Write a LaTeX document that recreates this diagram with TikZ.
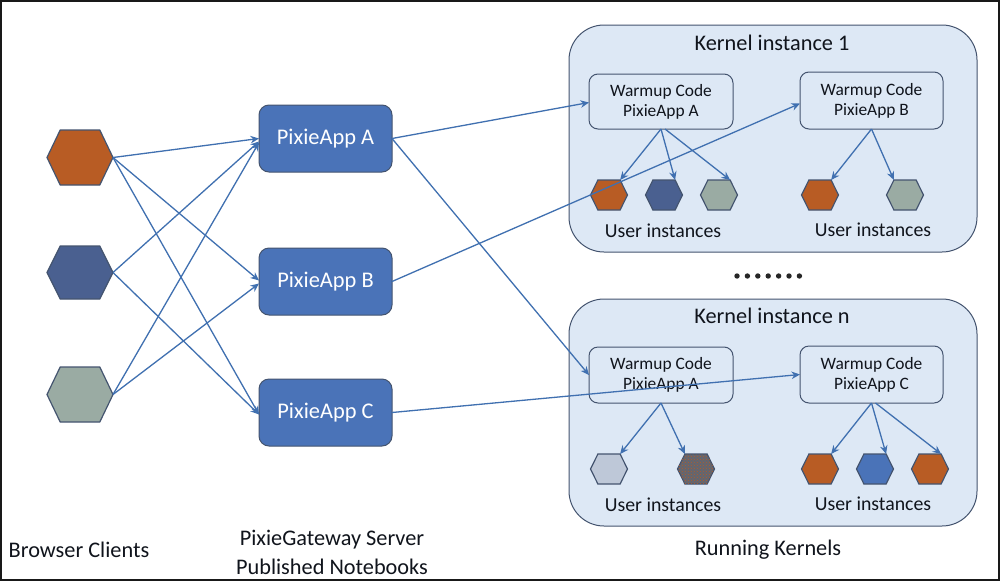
\documentclass[tikz,border=0pt]{standalone}
\usepackage{fontspec}
\setmainfont{Carlito}
\usetikzlibrary{arrows.meta,patterns}
\definecolor{hexorange}{HTML}{B85C24}
\definecolor{hexdark}{HTML}{4A6090}
\definecolor{hexgray}{HTML}{9AABA3}
\definecolor{hexpale}{HTML}{BEC8D8}
\definecolor{hexmix}{HTML}{5F6673}
\definecolor{appblue}{HTML}{4A73B8}
\definecolor{edgeblue}{HTML}{44546F}
\definecolor{kernelbg}{HTML}{DDE8F5}
\definecolor{linkblue}{HTML}{4070B0}
\definecolor{inktext}{HTML}{10141C}
\tikzset{
  hexedge/.style={draw=edgeblue,line width=1.2pt,line join=miter},
  kernelbox/.style={draw=edgeblue,fill=kernelbg,line width=1pt,rounded corners=35pt,inner sep=0,outer sep=0},
  warmbox/.style={draw=edgeblue,fill=kernelbg,line width=1pt,rounded corners=9pt,inner sep=0,outer sep=0,align=center,text=inktext,font=\fontsize{17.4}{20}\selectfont},
  appbox/.style={draw=edgeblue,fill=appblue,line width=1pt,rounded corners=10pt,inner sep=0,outer sep=0,text=white,font=\fontsize{22.4}{25}\selectfont},
  label/.style={inner sep=0,text=inktext,align=center,font=\fontsize{22.3}{29}\selectfont},
  small/.style={inner sep=0,text=inktext,font=\fontsize{19.8}{23}\selectfont},
  link/.style={draw=linkblue,line width=1.3pt,-{Stealth[length=8.5pt,width=7.5pt]}},
  dotmark/.style={circle,fill=black!85,inner sep=0,minimum size=5.4pt}
}
\newcommand{\hexnode}[6]{%
  \node[minimum width=#4pt,minimum height=#5pt,inner sep=0,outer sep=0] (#1) at (#2,#3) {};
  \draw[hexedge,#6] (#1.west) -- ([xshift={0.2*#4}]#1.north west) -- ([xshift={-0.2*#4}]#1.north east) -- (#1.east) -- ([xshift={-0.2*#4}]#1.south east) -- ([xshift={0.2*#4}]#1.south west) -- cycle;
  \coordinate (#1-tl) at ([xshift={0.2*#4}]#1.north west);
  \coordinate (#1-tr) at ([xshift={-0.2*#4}]#1.north east);
}
\begin{document}
\begin{tikzpicture}[x=1pt,y=-1pt]
\useasboundingbox (0,0) rectangle (1000,581);
\fill[white] (0,0) rectangle (1000,581);
\draw[black!90,line width=1.6pt] (0.8,0.8) rectangle (999.2,580.2);
% kernel boxes
\node[kernelbox,minimum width=408pt,minimum height=227pt] (k1) at (773,138.5) {};
\node[kernelbox,minimum width=408pt,minimum height=227pt] (kn) at (773,412.5) {};
\node[label] (k1t) at (772,43) {Kernel instance 1};
\node[label] (knt) at (772,316) {Kernel instance n};
% warmup boxes
\node[warmbox,minimum width=144pt,minimum height=55pt] (w1a) at (661,101.5) {Warmup Code\\PixieApp A};
\node[warmbox,minimum width=143pt,minimum height=57pt] (w1b) at (871.5,100.5) {Warmup Code\\PixieApp B};
\node[warmbox,minimum width=144pt,minimum height=56pt] (wna) at (661,375) {Warmup Code\\PixieApp A};
\node[warmbox,minimum width=143pt,minimum height=57pt] (wnc) at (871.5,374.5) {Warmup Code\\PixieApp C};
% user labels
\node[small] (u1) at (663,231) {User instances};
\node[small] (u2) at (873,230) {User instances};
\node[small] (u3) at (663,505) {User instances};
\node[small] (u4) at (873,504) {User instances};
% client hexagons
\hexnode{ca}{80}{157.5}{66}{55}{fill=hexorange}
\hexnode{cb}{80}{272.5}{66}{53}{fill=hexdark}
\hexnode{cc}{80}{394.5}{66}{55}{fill=hexgray}
% user hexagons
\hexnode{a1}{609}{195}{37}{30}{fill=hexorange}
\hexnode{a2}{664}{195}{37}{30}{fill=hexdark}
\hexnode{a3}{719}{195}{37}{30}{fill=hexgray}
\hexnode{b1}{820}{195}{37}{30}{fill=hexorange}
\hexnode{b2}{905}{195}{37}{30}{fill=hexgray}
\hexnode{c1}{609}{469}{37}{30}{fill=hexpale}
\hexnode{c2}{696}{469}{37}{30}{fill=hexmix,postaction={pattern=crosshatch dots,pattern color=hexorange}}
\hexnode{d1}{820}{469}{37}{30}{fill=hexorange}
\hexnode{d2}{875}{469}{37}{30}{fill=appblue}
\hexnode{d3}{930}{469}{37}{30}{fill=hexorange}
% apps
\node[appbox,minimum width=133pt,minimum height=67pt] (pa) at (325.5,138.5) {PixieApp A};
\node[appbox,minimum width=133pt,minimum height=67pt] (pb) at (325.5,281.5) {PixieApp B};
\node[appbox,minimum width=133pt,minimum height=67pt] (pc) at (325.5,412.5) {PixieApp C};
% clients to apps
\draw[link] (ca.east) -- ([yshift=0pt]pa.west);
\draw[link] (ca.east) -- ([yshift=1pt]pb.west);
\draw[link] (ca.east) -- ([yshift=-2pt]pc.west);
\draw[link] (cb.east) -- ([yshift=-3pt]pa.west);
\draw[link] (cb.east) -- ([yshift=-2pt]pc.west);
\draw[link] (cc.east) -- ([yshift=-4pt]pa.west);
\draw[link] (cc.east) -- ([yshift=-2pt]pb.west);
% apps to warmup
\draw[link] (pa.east) -- ([yshift=-1pt]w1a.west);
\draw[link] (pa.east) -- (wna.west);
\draw[link] (pb.east) -- ([yshift=-3pt]w1b.west);
\draw[link] (pc.east) -- (wnc.west);
% warmup to users
\draw[link] (w1a.south) -- (a1-tr);
\draw[link] (w1a.south) -- (a2-tr);
\draw[link] ([xshift=4pt]w1a.south) -- (a3-tr);
\draw[link] (w1b.south) -- (b1-tr);
\draw[link] (w1b.south) -- (b2-tl);
\draw[link] (wna.south) -- (c1-tr);
\draw[link] (wna.south) -- (c2-tl);
\draw[link] (wnc.south) -- (d1-tr);
\draw[link] (wnc.south) -- (d2-tr);
\draw[link] ([xshift=4pt]wnc.south) -- (d3-tr);
% dots
\foreach \i in {0,...,6}{\node[dotmark] (dot\i) at ({737+10.4*\i},276) {};}
% captions
\node[label] (l1) at (79,550) {Browser Clients};
\node[label] (l2) at (332,552) {PixieGateway Server\\Published Notebooks};
\node[label] (l3) at (768,550) {Running Kernels};
\end{tikzpicture}
\end{document}
